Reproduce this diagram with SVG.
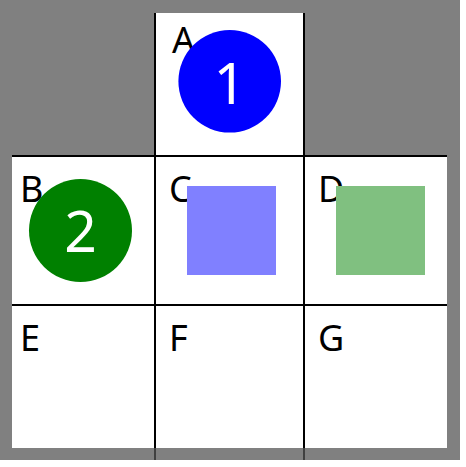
<svg xmlns="http://www.w3.org/2000/svg" width="466" height="467" viewBox="0 0 466 467">
<style>
.cell{fill:#ffffff;}
.lbl{font-family:"Noto Sans","Open Sans","DejaVu Sans",sans-serif;font-size:36px;fill:#000000;}
.num{font-family:"Noto Sans","Open Sans","DejaVu Sans",sans-serif;font-size:57px;fill:#ffffff;text-anchor:middle;}
.grid{stroke:#000000;stroke-width:2;fill:none;}
</style>
<rect x="0" y="0" width="466" height="467" fill="#ffffff"/>
<rect x="0" y="0" width="460" height="460" fill="#808080"/>
<g id="cell-A"><rect class="cell" x="155" y="13" width="149" height="143"/><text class="lbl" x="172" y="53">A</text></g>
<g id="cell-B"><rect class="cell" x="12" y="156" width="143" height="149"/><text class="lbl" x="20" y="202">B</text></g>
<g id="cell-C"><rect class="cell" x="155" y="156" width="149" height="149"/><text class="lbl" x="169" y="202">C</text></g>
<g id="cell-D"><rect class="cell" x="304" y="156" width="143" height="149"/><text class="lbl" x="318" y="202">D</text></g>
<g id="cell-E"><rect class="cell" x="12" y="305" width="143" height="143"/><text class="lbl" x="20" y="351">E</text></g>
<g id="cell-F"><rect class="cell" x="155" y="305" width="149" height="143"/><text class="lbl" x="169" y="351">F</text></g>
<g id="cell-G"><rect class="cell" x="304" y="305" width="143" height="143"/><text class="lbl" x="318" y="351">G</text></g>
<g id="connectors">
<line class="grid" x1="155" y1="13" x2="155" y2="448"/>
<line class="grid" x1="304" y1="13" x2="304" y2="448"/>
<line class="grid" x1="12" y1="156" x2="447" y2="156"/>
<line class="grid" x1="12" y1="305" x2="447" y2="305"/>
<line x1="155" y1="448" x2="155" y2="460" stroke="#404040" stroke-width="2"/>
<line x1="304" y1="448" x2="304" y2="460" stroke="#404040" stroke-width="2"/>
</g>
<g id="square-C"><rect x="187" y="186" width="89" height="89" fill="#8080ff"/></g>
<g id="square-D"><rect x="336" y="186" width="89" height="89" fill="#80c080"/></g>
<g id="token-1"><circle cx="229.7" cy="81.3" r="51.3" fill="#0000ff"/><text class="num" x="229.7" y="104">1</text></g>
<g id="token-2"><circle cx="80.5" cy="230.5" r="51.5" fill="#008000"/><text class="num" x="80.5" y="252">2</text></g>
</svg>
